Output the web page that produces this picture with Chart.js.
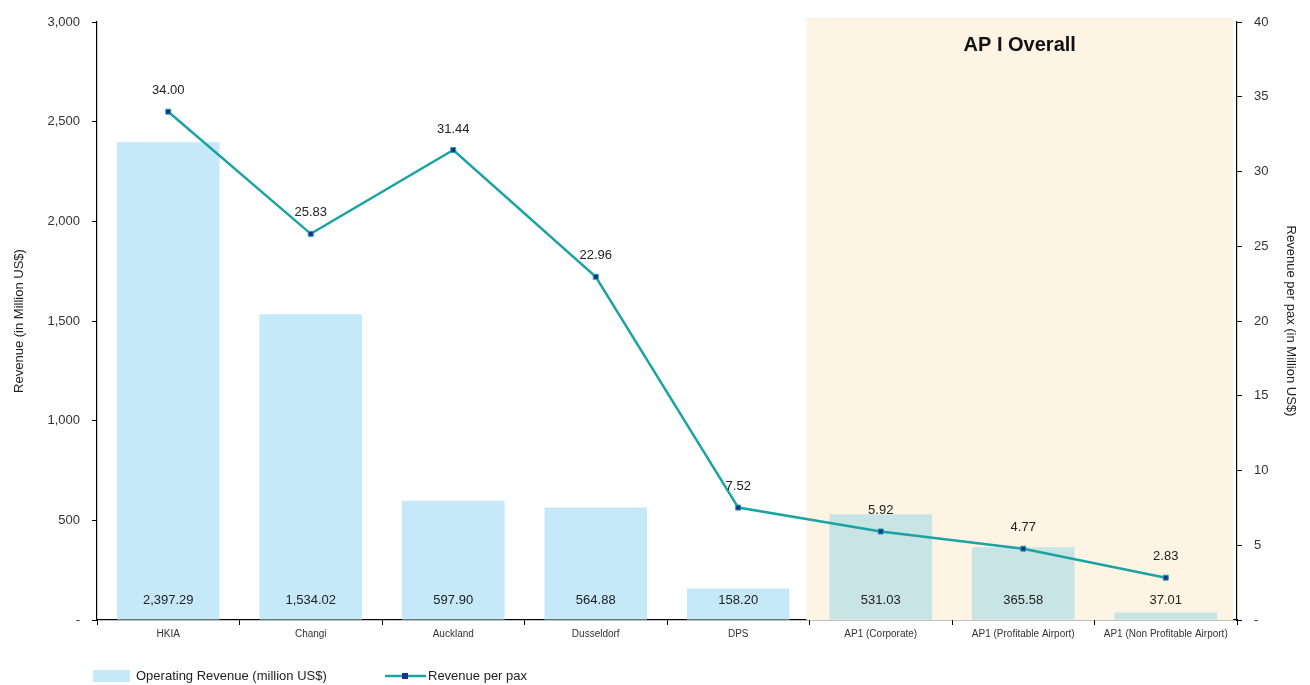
<!DOCTYPE html>
<html><head><meta charset="utf-8">
<script src="https://cdn.jsdelivr.net/npm/chart.js@4.4.1/dist/chart.umd.min.js"></script>
<style>html,body{margin:0;padding:0;background:#fff;}#wrap{width:1310px;height:685px;}</style>
</head><body><div id="wrap"><canvas id="c" width="1310" height="685"></canvas></div>
<script>
const categories = ["HKIA","Changi","Auckland","Dusseldorf","DPS","AP1 (Corporate)","AP1 (Profitable Airport)","AP1 (Non Profitable Airport)"];
const operatingRevenue = [2397.29,1534.02,597.90,564.88,158.20,531.03,365.58,37.01];
const revenuePerPax = [34.00,25.83,31.44,22.96,7.52,5.92,4.77,2.83];
const leftTicks = [0,500,1000,1500,2000,2500,3000];
const rightTicks = [0,5,10,15,20,25,30,35,40];
const shadedFrom = 5; // first category index inside "AP I Overall"
const shadedTitle = "AP I Overall";
const seriesNames = ["Operating Revenue (million US$)","Revenue per pax"];

const FONT = "'Liberation Sans', Arial, sans-serif";
const BAR = "#c6e9fa", BAR_SH = "#c8e4e4", CREAM = "#fdf4e3", TEAL = "#1ba3a3", NAVY = "#1b2f8a";

const shadePlugin = {
  id:'shade',
  beforeDatasetsDraw(chart){
    const {ctx, scales:{x}, chartArea} = chart;
    const l = (x.getPixelForValue(shadedFrom-1)+x.getPixelForValue(shadedFrom))/2 - 3;
    const r = chartArea.right - 4;
    ctx.save();
    ctx.fillStyle = CREAM;
    ctx.fillRect(l, chartArea.top-4, r-l, chartArea.bottom-chartArea.top+4);
    ctx.fillStyle = "#111";
    ctx.font = "bold 20px " + FONT;
    ctx.textAlign = "center"; ctx.textBaseline = "middle";
    ctx.fillText(shadedTitle, (l+r)/2, chartArea.top+23);
    ctx.restore();
  }
};

const labelPlugin = {
  id:'labels',
  afterDatasetsDraw(chart){
    const {ctx} = chart;
    ctx.save();
    ctx.font = "13px " + FONT;
    ctx.fillStyle = "#222";
    ctx.textAlign = "center"; ctx.textBaseline = "middle";
    const barMeta = chart.getDatasetMeta(1);
    barMeta.data.forEach((el,i)=>{
      ctx.fillText(operatingRevenue[i].toLocaleString('en-US',{minimumFractionDigits:2,maximumFractionDigits:2}), el.x, chart.chartArea.bottom-20);
    });
    const lineMeta = chart.getDatasetMeta(0);
    lineMeta.data.forEach((el,i)=>{
      ctx.fillText(revenuePerPax[i].toFixed(2), el.x, el.y-21);
    });
    ctx.restore();
  }
};

const legendPlugin = {
  id:'customLegend',
  afterDraw(chart){
    const {ctx} = chart;
    const yy = 676;
    ctx.save();
    ctx.font = "13px " + FONT;
    ctx.textBaseline = "middle"; ctx.textAlign = "left";
    ctx.fillStyle = BAR;
    ctx.fillRect(93, yy-6, 37, 12);
    ctx.fillStyle = "#222";
    ctx.fillText(seriesNames[0], 136, yy);
    ctx.strokeStyle = TEAL; ctx.lineWidth = 2.5;
    ctx.beginPath(); ctx.moveTo(385, yy); ctx.lineTo(426, yy); ctx.stroke();
    ctx.fillStyle = NAVY; ctx.fillRect(402, yy-3, 6, 6);
    ctx.fillStyle = "#222";
    ctx.fillText(seriesNames[1], 428, yy);
    ctx.restore();
  }
};

const fmtLeft = v => v === 0 ? "-" : v.toLocaleString('en-US');
const fmtRight = v => v === 0 ? "-" : String(v);

new Chart(document.getElementById('c'), {
  data: {
    labels: categories,
    datasets: [
      { type:'line', label: seriesNames[1], data: revenuePerPax, yAxisID:'y1', order:0,
        borderColor: TEAL, borderWidth: 2.5, pointStyle:'rect', pointRadius: 3.5,
        pointBackgroundColor: NAVY, pointBorderColor: TEAL, pointBorderWidth: 1, tension: 0 },
      { type:'bar', label: seriesNames[0], data: operatingRevenue, yAxisID:'y', order:1,
        backgroundColor: categories.map((c,i)=> i>=shadedFrom ? BAR_SH : BAR),
        barPercentage: 0.72, categoryPercentage: 1.0 }
    ]
  },
  options: {
    responsive:false, animation:false, devicePixelRatio:1,
    layout:{ padding:{ top:22, left:0, right:0, bottom:0 } },
    plugins:{ legend:{display:false}, tooltip:{enabled:false} },
    scales:{
      x:{
        offset:true,
        grid:{ display:true, drawOnChartArea:false, offset:true, color:'#000', tickLength:5 },
        border:{ color:'#000', width:1.2 },
        ticks:{ font:{ family:FONT, size:10 }, color:'#333', maxRotation:0, autoSkip:false, padding:3 },
        afterFit(s){ s.height = 65; }
      },
      y:{
        position:'left', min:0, max:3000,
        afterBuildTicks(s){ s.ticks = leftTicks.map(v=>({value:v})); },
        grid:{ display:true, drawOnChartArea:false, color:'#000', tickLength:5 },
        border:{ color:'#000', width:1.2 },
        ticks:{ font:{ family:FONT, size:13 }, color:'#333', padding:12, callback: fmtLeft },
        title:{ display:true, text:'Revenue (in Million US$)', font:{ family:FONT, size:13 }, color:'#222', padding:{top:12,bottom:4} },
        afterFit(s){ s.width = 97; }
      },
      y1:{
        position:'right', min:0, max:40,
        afterBuildTicks(s){ s.ticks = rightTicks.map(v=>({value:v})); },
        grid:{ display:true, drawOnChartArea:false, color:'#000', tickLength:5 },
        border:{ color:'#000', width:1.2 },
        ticks:{ font:{ family:FONT, size:13 }, color:'#333', padding:12, callback: fmtRight },
        title:{ display:true, text:'Revenue per pax (in Million US$)', font:{ family:FONT, size:13 }, color:'#222', padding:{top:12,bottom:10} },
        afterFit(s){ s.width = 73; }
      }
    }
  },
  plugins:[shadePlugin, labelPlugin, legendPlugin]
});
</script></body></html>
